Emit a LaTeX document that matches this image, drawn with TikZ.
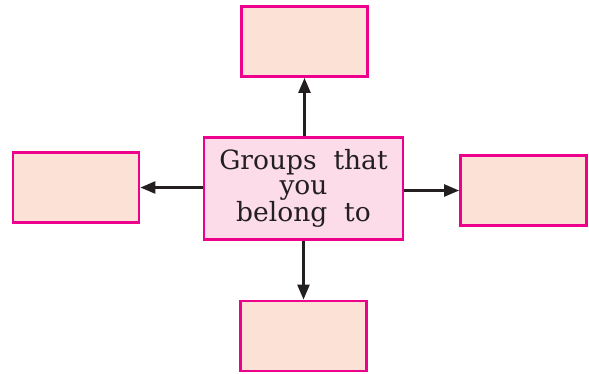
\documentclass[tikz,border=0pt]{standalone}
\usepackage{fontspec}
\setmainfont{DejaVu Serif}
\usetikzlibrary{arrows.meta}
\definecolor{mag}{HTML}{EC008C}
\definecolor{peach}{HTML}{FCE2D6}
\definecolor{pinkf}{HTML}{FBDCE8}
\definecolor{ink}{HTML}{231F20}
\begin{document}
\begin{tikzpicture}[x=1pt,y=-1pt,
  emptybox/.style={draw=mag,line width=2.8pt,fill=peach,minimum width=126pt,minimum height=70pt,inner sep=0pt},
  centrebox/.style={draw=mag,line width=2.8pt,fill=pinkf,minimum width=199pt,minimum height=102pt,inner sep=0pt,align=center,font=\fontsize{26.5}{27}\selectfont,text=ink},
  arr/.style={draw=ink,line width=2.5pt,-{Triangle[length=15pt,width=12pt]}}]
\useasboundingbox (0,0) rectangle (589,373);
\node[centrebox] (c) at (303.5,188.5) {Groups~~that\\[-2pt]you\\belong~~to};
\node[emptybox] (t) at (304.5,41.5) {};
\node[emptybox] (l) at (76,187.5) {};
\node[emptybox] (r) at (523.5,190.5) {};
\node[emptybox] (b) at (303.5,336) {};
\draw[arr] (c.north -| t.south) -- (t.south);
\draw[arr] (c.west |- l.east) -- (l.east);
\draw[arr] (c.east |- r.west) -- (r.west);
\draw[arr] (c.south -| b.north) -- (b.north);
\end{tikzpicture}
\end{document}
